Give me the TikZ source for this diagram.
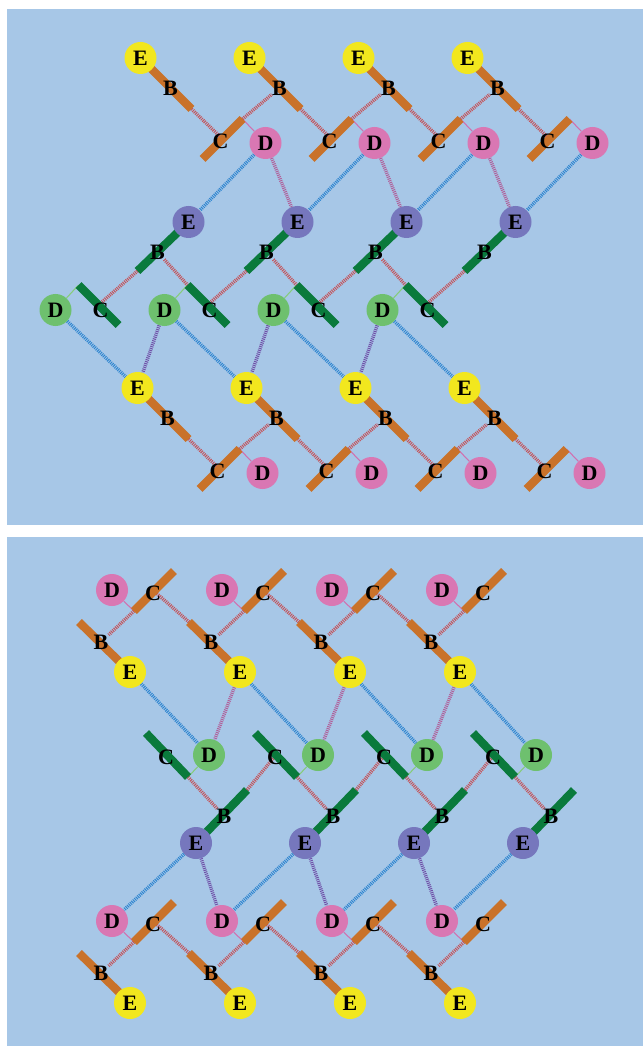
\documentclass[tikz,border=0pt]{standalone}
\usepackage{fontspec}
\setmainfont{Liberation Serif}
\usetikzlibrary{calc}
\definecolor{cBg}{HTML}{A7C7E7}
\definecolor{cYel}{HTML}{F2E71E}
\definecolor{cPnk}{HTML}{D977B3}
\definecolor{cPur}{HTML}{7677BD}
\definecolor{cGrn}{HTML}{6EC06E}
\definecolor{cOrg}{HTML}{C9722A}
\definecolor{cGbar}{HTML}{0A7A3C}
\definecolor{cRsp}{HTML}{C4545A}
\definecolor{cBsp}{HTML}{2F86D0}
\definecolor{cMsp}{HTML}{B0609A}
\definecolor{cVsp}{HTML}{7050A8}
\definecolor{cPth}{HTML}{D070B0}
\definecolor{cGth}{HTML}{86CC7A}
\pgfdeclarelayer{back}
\pgfdeclarelayer{bg}
\pgfdeclarelayer{mid}
\pgfsetlayers{back,bg,mid,main}
\tikzset{
  lbl/.style={inner sep=0pt, text=black, font=\fontsize{16.5}{17}\selectfont\bfseries},
  ball/.style={circle, minimum size=24pt, inner sep=0pt, text=black, font=\fontsize{16.5}{17}\selectfont\bfseries},
  obar/.style={draw=cOrg, line width=6.2pt},
  gbar/.style={draw=cGbar, line width=6.2pt},
  spr/.style={line width=2.6pt, dash pattern=on 0.75pt off 0.75pt},
  rspr/.style={spr, draw=cRsp},
  bspr/.style={spr, draw=cBsp},
  mspr/.style={spr, draw=cMsp},
  vspr/.style={spr, draw=cVsp},
  pthin/.style={draw=cPth, line width=0.8pt},
  gthin/.style={draw=cGth, line width=0.8pt}
}
% type A: yellow E, orange bar pointing down-right
\newcommand\EA[3]{%
  \node[ball,fill=cYel] (#1E) at (#2,#3) {E};
  \node[lbl] (#1B) at ({#2+30},{#3+30}) {B};
  \coordinate (#1b) at ({#2+51},{#3+51});
  \begin{pgfonlayer}{mid}\draw[obar] (#1E.center) -- (#1b);\end{pgfonlayer}}
\newcommand\CA[3]{%
  \coordinate (#1c) at ({#2+82},{#3+81});
  \coordinate (#1o) at ({#2+102},{#3+61});
  \coordinate (#1i) at ({#2+62},{#3+101});
  \node[lbl] (#1C) at ({#2+80},{#3+83}) {C};
  \node[ball,fill=cPnk] (#1D) at ({#2+125},{#3+85}) {D};
  \begin{pgfonlayer}{mid}\draw[obar] (#1i) -- (#1o);\end{pgfonlayer}
  \begin{pgfonlayer}{bg}\draw[pthin] (#1o) -- (#1D);\end{pgfonlayer}}
% type A': purple E, green bar pointing down-left
\newcommand\EAp[3]{%
  \node[ball,fill=cPur] (#1E) at (#2,#3) {E};
  \node[lbl] (#1B) at ({#2-31},{#3+30}) {B};
  \coordinate (#1b) at ({#2-51},{#3+49});
  \begin{pgfonlayer}{mid}\draw[gbar] (#1E.center) -- (#1b);\end{pgfonlayer}}
\newcommand\CAp[3]{%
  \coordinate (#1c) at ({#2-90},{#3+83});
  \coordinate (#1o) at ({#2-110},{#3+63});
  \coordinate (#1i) at ({#2-70},{#3+103});
  \node[lbl] (#1C) at ({#2-88},{#3+88}) {C};
  \node[ball,fill=cGrn] (#1D) at ({#2-133},{#3+88}) {D};
  \begin{pgfonlayer}{mid}\draw[gbar] (#1i) -- (#1o);\end{pgfonlayer}
  \begin{pgfonlayer}{bg}\draw[gthin] (#1o) -- (#1D);\end{pgfonlayer}}
% type B: yellow E, orange bar pointing up-left
\newcommand\EB[3]{%
  \node[ball,fill=cYel] (#1E) at (#2,#3) {E};
  \node[lbl] (#1B) at ({#2-29},{#3-30}) {B};
  \coordinate (#1b) at ({#2-51},{#3-50});
  \begin{pgfonlayer}{mid}\draw[obar] (#1E.center) -- (#1b);\end{pgfonlayer}}
\newcommand\CB[3]{%
  \coordinate (#1c) at ({#2-86},{#3-81});
  \coordinate (#1o) at ({#2-106},{#3-61});
  \coordinate (#1i) at ({#2-66},{#3-101});
  \node[lbl] (#1C) at ({#2-87},{#3-79}) {C};
  \node[ball,fill=cPnk] (#1D) at ({#2-128},{#3-82}) {D};
  \begin{pgfonlayer}{mid}\draw[obar] (#1i) -- (#1o);\end{pgfonlayer}
  \begin{pgfonlayer}{bg}\draw[pthin] (#1o) -- (#1D);\end{pgfonlayer}}
% type B': purple E, green bar pointing up-right
\newcommand\EBp[3]{%
  \node[ball,fill=cPur] (#1E) at (#2,#3) {E};
  \node[lbl] (#1B) at ({#2+28},{#3-27}) {B};
  \coordinate (#1b) at ({#2+51},{#3-53});
  \begin{pgfonlayer}{mid}\draw[gbar] (#1E.center) -- (#1b);\end{pgfonlayer}}
\newcommand\CBp[3]{%
  \coordinate (#1c) at ({#2+80},{#3-88});
  \coordinate (#1o) at ({#2+101},{#3-66});
  \coordinate (#1i) at ({#2+59},{#3-110});
  \node[lbl] (#1C) at ({#2+79},{#3-86}) {C};
  \node[ball,fill=cGrn] (#1D) at ({#2+122},{#3-88}) {D};
  \begin{pgfonlayer}{mid}\draw[gbar] (#1i) -- (#1o);\end{pgfonlayer}
  \begin{pgfonlayer}{bg}\draw[gthin] (#1o) -- (#1D);\end{pgfonlayer}}
\begin{document}
\begin{tikzpicture}[x=0.75pt,y=-0.75pt]
\useasboundingbox (0,0) rectangle (643,1048);
\begin{pgfonlayer}{back}
\fill[white] (0,0) rectangle (643,1048);
\fill[cBg] (7,9) rectangle (643,525);
\fill[cBg] (7,537) rectangle (643,1046);
\end{pgfonlayer}
% ---------- top panel ----------
\foreach \k in {1,...,4}{
  \pgfmathsetmacro\xa{140.5+109*(\k-1)}
  \EA{a\k}{\xa}{58}\CA{a\k}{\xa}{58}
  \pgfmathsetmacro\xp{188.5+109*(\k-1)}
  \EAp{p\k}{\xp}{222}\CAp{p\k}{\xp}{222}
  \pgfmathsetmacro\xc{137.5+109*(\k-1)}
  \EA{c\k}{\xc}{388}\CA{c\k}{\xc}{388}
}
% ---------- bottom panel ----------
\foreach \j in {1,...,4}{
  \pgfmathsetmacro\xd{130+110*(\j-1)}
  \EB{d\j}{\xd}{672}
  \EB{f\j}{\xd}{1003}
  \pgfmathsetmacro\xq{196+109*(\j-1)}
  \EBp{q\j}{\xq}{843}
}
\foreach \j in {2,...,5}{
  \pgfmathsetmacro\xd{130+110*(\j-1)}
  \CB{d\j}{\xd}{672}
  \CB{f\j}{\xd}{1003}
}
\foreach \k in {0,...,3}{
  \pgfmathsetmacro\xq{196+109*(\k-1)}
  \CBp{q\k}{\xq}{843}
}
% ---------- springs ----------
\begin{pgfonlayer}{bg}
\foreach \k in {1,...,4}{
  \draw[rspr] (a\k b) -- (a\k c);
  \draw[rspr] (p\k b) -- (p\k c);
  \draw[rspr] (c\k b) -- (c\k c);
  \draw[bspr] (a\k D) -- (p\k E);
  \draw[bspr] (p\k D) -- (c\k E);
}
\foreach \k [count=\n from 2] in {1,...,3}{
  \draw[rspr] (a\k o) -- (a\n B);
  \draw[rspr] (c\k o) -- (c\n B);
  \draw[rspr] (p\k B) -- (p\n o);
  \draw[mspr] (a\k D) -- (p\n E);
  \draw[vspr] (p\n D) -- (c\k E);
}
\foreach \j in {2,...,4}{
  \draw[rspr] (d\j b) -- (d\j c);
  \draw[rspr] (f\j b) -- (f\j c);
}
\foreach \j [count=\m from 1] in {2,...,5}{
  \draw[rspr] (d\j o) -- (d\m B);
  \draw[rspr] (f\j o) -- (f\m B);
}
\foreach \k in {1,...,3}{
  \draw[rspr] (q\k b) -- (q\k c);
}
\foreach \k [count=\n from 1] in {0,...,3}{
  \draw[rspr] (q\k o) -- (q\n B);
}
\foreach \j [count=\m from 0] in {1,...,4}{
  \draw[bspr] (d\j E) -- (q\m D);
}
\foreach \j [count=\m from 0] in {2,...,4}{
  \draw[mspr] (d\j E) -- (q\m D);
}
\foreach \k [count=\n from 2] in {1,...,4}{
  \draw[bspr] (q\k E) -- (f\n D);
}
\foreach \k [count=\n from 3] in {1,...,3}{
  \draw[vspr] (q\k E) -- (f\n D);
}
\end{pgfonlayer}
\end{tikzpicture}
\end{document}
